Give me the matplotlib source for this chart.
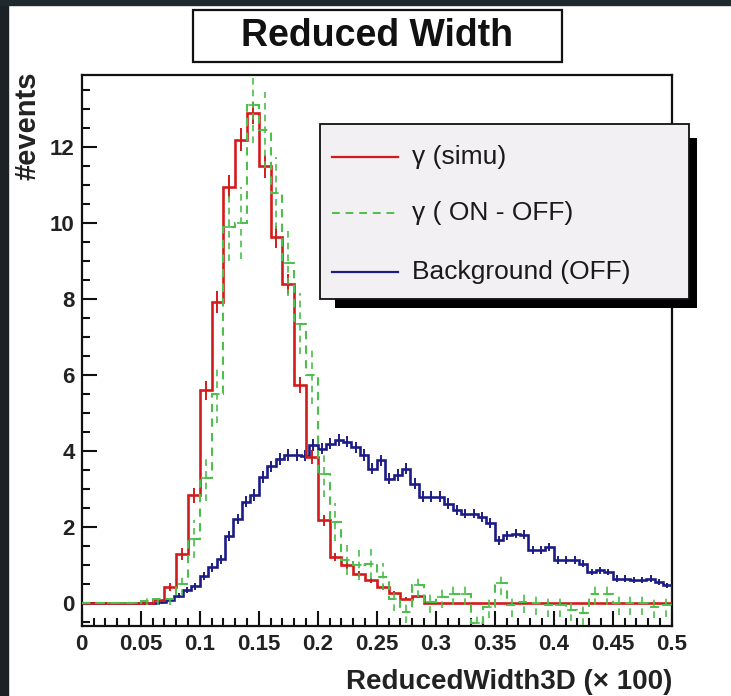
import numpy as np
import matplotlib
matplotlib.use("Agg")
import matplotlib.pyplot as plt
from matplotlib.patches import Rectangle
from matplotlib.lines import Line2D
from matplotlib.ticker import MultipleLocator, FixedLocator, FixedFormatter

plt.rcParams['font.family'] = ['Liberation Sans', 'DejaVu Sans']

# ---- data ----
# gamma (simu) and gamma (ON - OFF): 50 bins of 0.01 between 0 and 0.5
gamma_simu = [0, 0, 0, 0, 0, 0, 0.08, 0.43, 1.3, 2.84,
              5.6, 7.93, 10.96, 12.2, 12.9, 11.5, 9.64, 8.41, 5.74, 3.85,
              2.18, 1.22, 1.0, 0.78, 0.6, 0.42, 0.26, 0.12, 0.18, 0,
              0, 0, 0, 0, 0, 0, 0, 0, 0, 0,
              0, 0, 0, 0, 0, 0, 0, 0, 0, 0]
gamma_simu_err = [0, 0, 0, 0, 0, 0, 0.05, 0.1, 0.15, 0.2,
                  0.25, 0.28, 0.3, 0.3, 0.3, 0.3, 0.28, 0.26, 0.22, 0.18,
                  0.14, 0.1, 0.1, 0.08, 0.07, 0.06, 0.05, 0.04, 0.04, 0,
                  0, 0, 0, 0, 0, 0, 0, 0, 0, 0,
                  0, 0, 0, 0, 0, 0, 0, 0, 0, 0]
gamma_on_off = [0, 0, 0, 0, 0, 0.05, 0.1, 0.1, 0.5, 1.68,
                3.3, 5.5, 9.9, 10.0, 13.1, 12.45, 10.8, 8.94, 7.36, 6.0,
                3.4, 2.14, 1.13, 1.0, 1.04, 0.7, 0.1, -0.23, 0.47, 0.03,
                0.17, 0.25, 0.25, -0.53, -0.1, 0.52, -0.05, 0.03, 0.0, -0.05,
                -0.05, -0.18, -0.27, 0.25, 0.25, 0.0, 0.0, 0.0, -0.1, -0.05]
gamma_on_off_err = [0, 0, 0, 0, 0, 0.1, 0.15, 0.15, 0.3, 0.5,
                    0.6, 0.75, 0.9, 0.95, 1.0, 1.0, 0.95, 0.85, 0.8, 0.75,
                    0.6, 0.5, 0.4, 0.4, 0.4, 0.35, 0.3, 0.3, 0.3, 0.3,
                    0.3, 0.3, 0.3, 0.3, 0.3, 0.3, 0.3, 0.3, 0.3, 0.3,
                    0.3, 0.3, 0.3, 0.3, 0.3, 0.3, 0.3, 0.3, 0.3, 0.3]
# Background (OFF): 70 bins between 0 and 0.5
background = [0, 0, 0, 0, 0, 0, 0, 0, 0, 0.02,
              0.08, 0.2, 0.35, 0.45, 0.72, 0.94, 1.16, 1.77, 2.22, 2.67,
              2.85, 3.32, 3.6, 3.8, 3.9, 3.9, 3.88, 4.16, 4.07, 4.2,
              4.29, 4.25, 4.1, 3.9, 3.54, 3.76, 3.28, 3.37, 3.54, 3.15,
              2.8, 2.8, 2.8, 2.62, 2.45, 2.36, 2.36, 2.27, 2.1, 1.66,
              1.79, 1.83, 1.8, 1.4, 1.4, 1.48, 1.13, 1.13, 1.13, 1.04,
              0.82, 0.87, 0.82, 0.65, 0.65, 0.6, 0.6, 0.65, 0.56, 0.47]
background_err = [0, 0, 0, 0, 0, 0, 0, 0, 0, 0.03,
                  0.05, 0.07, 0.08, 0.09, 0.1, 0.11, 0.12, 0.13, 0.14, 0.14,
                  0.15, 0.15, 0.15, 0.15, 0.15, 0.15, 0.15, 0.15, 0.15, 0.15,
                  0.15, 0.15, 0.15, 0.15, 0.15, 0.15, 0.15, 0.15, 0.15, 0.15,
                  0.14, 0.14, 0.14, 0.14, 0.13, 0.13, 0.13, 0.13, 0.13, 0.12,
                  0.12, 0.12, 0.12, 0.11, 0.11, 0.11, 0.1, 0.1, 0.1, 0.1,
                  0.09, 0.09, 0.09, 0.08, 0.08, 0.08, 0.08, 0.08, 0.08, 0.07]
x_tick_labels = ["0", "0.05", "0.1", "0.15", "0.2", "0.25", "0.3", "0.35", "0.4", "0.45", "0.5"]
y_tick_labels = ["0", "2", "4", "6", "8", "10", "12"]
legend_labels = ["\u03b3 (simu)", "\u03b3 ( ON - OFF)", "Background (OFF)"]

RED = "#d21c1c"
GREEN = "#4cbf4c"
BLUE = "#1c1c86"

W, H = 731, 696
fig = plt.figure(figsize=(W / 100, H / 100), dpi=100, facecolor="white")


def fx(px):
    return px / W


def fy(py):
    return 1 - py / H


# dark strips of the photographed slide
fig.add_artist(Rectangle((0, 0), fx(8), 1, transform=fig.transFigure, color="#1b2326", zorder=0))
fig.add_artist(Rectangle((0, fy(5)), 1, 1 - fy(5), transform=fig.transFigure, color="#1e2a2d", zorder=0))

ax = fig.add_axes([fx(81.7), fy(626), fx(671.7) - fx(81.7), fy(75) - fy(626)])
ax.set_xlim(0, 0.5)
ax.set_ylim(-0.6, 13.9)

edges10 = np.linspace(0, 0.5, len(gamma_simu) + 1)
edges7 = np.linspace(0, 0.5, len(background) + 1)
c10 = 0.5 * (edges10[1:] + edges10[:-1])
c7 = 0.5 * (edges7[1:] + edges7[:-1])

# background
ax.stairs(background, edges7, color=BLUE, lw=1.9, zorder=3)
ax.errorbar(c7, background, yerr=background_err, fmt="none", ecolor=BLUE, elinewidth=1.4, zorder=3)
# gamma (simu)
ax.stairs(gamma_simu, edges10, color=RED, lw=1.9, zorder=4)
ax.errorbar(c10, gamma_simu, yerr=gamma_simu_err, fmt="none", ecolor=RED, elinewidth=1.4, zorder=4)
# gamma (ON - OFF), dashed
ax.stairs(gamma_on_off, edges10, color=GREEN, lw=1.5, ls=(0, (4, 3)), zorder=5)
eb = ax.errorbar(c10, gamma_on_off, yerr=gamma_on_off_err, xerr=0.0035, fmt="none",
                 ecolor=GREEN, elinewidth=1.2, zorder=5)
for lc in eb[2]:
    lc.set_linestyle((0, (4, 3)))

for s in ax.spines.values():
    s.set_linewidth(1.6)
    s.set_color("#111111")

ax.xaxis.set_major_locator(FixedLocator(np.linspace(0, 0.5, len(x_tick_labels))))
ax.xaxis.set_major_formatter(FixedFormatter(x_tick_labels))
ax.xaxis.set_minor_locator(MultipleLocator(0.01))
ax.yaxis.set_major_locator(FixedLocator([float(v) for v in y_tick_labels]))
ax.yaxis.set_major_formatter(FixedFormatter(y_tick_labels))
ax.yaxis.set_minor_locator(MultipleLocator(0.5))
ax.tick_params(which="both", direction="in", top=False, right=False, color="#111111")
ax.tick_params(which="major", length=11, width=1.5)
ax.tick_params(which="minor", length=6, width=1.5)
ax.tick_params(axis="x", which="major", pad=6, labelsize=16)
ax.tick_params(axis="y", which="major", pad=5, labelsize=16)
for lab in ax.get_xticklabels() + ax.get_yticklabels():
    lab.set_fontweight("bold")
    lab.set_color("#222222")

# axis titles
fig.text(fx(672), fy(689), "ReducedWidth3D (\u00d7 100)", ha="right", va="baseline",
         fontsize=20, fontweight="bold", color="#222222")
fig.text(fx(28), fy(72), "#events", rotation=90, ha="center", va="top",
         fontsize=21, fontweight="bold", color="#222222")

# title box
fig.add_artist(Rectangle((fx(193), fy(62)), fx(562) - fx(193), fy(10) - fy(62),
                         transform=fig.transFigure, facecolor="white", edgecolor="#111111", lw=1.6))
fig.text(fx(377), fy(36), "Reduced Width", ha="center", va="center",
         fontsize=27, fontweight="bold", color="#111111")

# legend with ROOT-style shadow
fig.add_artist(Rectangle((fx(335), fy(308)), fx(697) - fx(335), fy(138) - fy(308),
                         transform=fig.transFigure, facecolor="black", edgecolor="none", zorder=10))
fig.add_artist(Rectangle((fx(320), fy(299)), fx(689) - fx(320), fy(124) - fy(299),
                         transform=fig.transFigure, facecolor="#f3f0f3", edgecolor="#111111", lw=1.3, zorder=11))
rows = [157, 213, 272]
styles = [(RED, "-", 1.6), (GREEN, (0, (4, 3)), 1.4), (BLUE, "-", 1.6)]
for (col, ls, lw), ry, lab in zip(styles, rows, legend_labels):
    fig.add_artist(Line2D([fx(332), fx(398)], [fy(ry), fy(ry)], transform=fig.transFigure,
                          color=col, ls=ls, lw=lw, zorder=12))
    fig.text(fx(412), fy(ry), lab, ha="left", va="center", fontsize=19, color="#1a1a1a", zorder=12)

fig.savefig("out.png", dpi=100, facecolor="white")
